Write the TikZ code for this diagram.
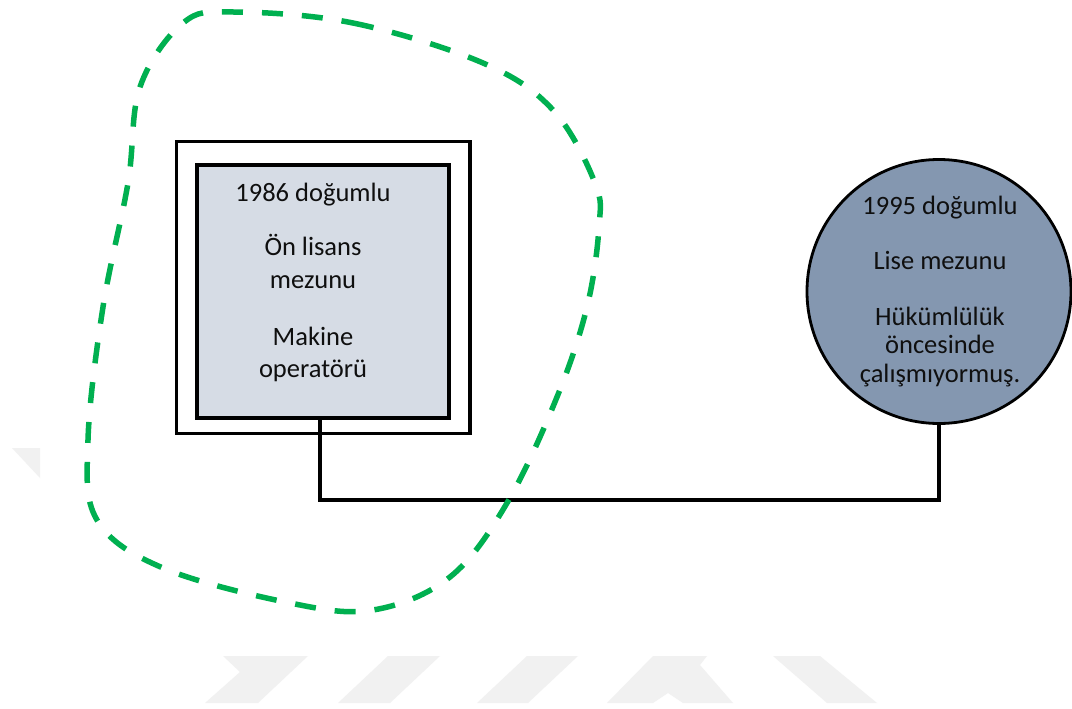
\documentclass[tikz,border=0pt]{standalone}
\usepackage{fontspec}
\setmainfont{Carlito}
\definecolor{innerfill}{RGB}{214,220,229}
\definecolor{circfill}{RGB}{132,151,176}
\definecolor{blobgreen}{RGB}{0,176,80}
\definecolor{wmgray}{RGB}{241,241,241}
\definecolor{txt}{RGB}{15,15,15}
\tikzset{
  txtline/.style={anchor=base, inner sep=0pt, text=txt, font=\fontsize{26.5}{32}\selectfont},
  conn/.style={draw=black, line width=3.2pt, line join=miter},
  blob/.style={draw=blobgreen, line width=5.5pt, dash pattern=on 21pt off 19pt},
  wm/.style={fill=wmgray, draw=none}
}
\begin{document}
\begin{tikzpicture}[x=1pt,y=-1pt]
\useasboundingbox (0,0) rectangle (1072,709);
\fill[white] (0,0) rectangle (1072,709);
% faint watermark
\fill[wm] (12,448) -- (40,448) -- (40,478) -- cycle;
\fill[wm] (223,656) -- (308,656) -- (258,703) -- (205,703) -- (240,672) -- cycle;
\fill[wm] (388,656) -- (440,656) -- (390,703) -- (338,703) -- cycle;
\fill[wm] (527,656) -- (578,656) -- (528,703) -- (477,703) -- cycle;
\fill[wm] (653,656) -- (707,656) -- (700,665) -- (733,703) -- (683,703) -- (668,693) -- (653,703) -- (607,703) -- cycle;
\fill[wm] (773,656) -- (820,656) -- (877,703) -- (827,703) -- cycle;
% left boxes
\node[draw=black, line width=3.2pt, minimum width=293.3pt, minimum height=291.7pt, inner sep=0pt, anchor=north west] (outer) at (175,140) {};
\node[draw=black, fill=innerfill, line width=4pt, minimum width=251.7pt, minimum height=252.7pt, inner sep=0pt, anchor=north west] (inner) at (195,163.3) {};
\node[txtline] (a1) at (313,201) {1986 doğumlu};
\node[txtline] (a2) at (313,255) {Ön lisans};
\node[txtline] (a3) at (313,288) {mezunu};
\node[txtline] (a4) at (313,345) {Makine};
\node[txtline] (a5) at (313,377) {operatörü};
% circle
\node[circle, draw=black, fill=circfill, line width=2.8pt, minimum size=264pt, inner sep=0pt] (circ) at (939,291.5) {};
\node[txtline] (b1) at (940,214) {1995 doğumlu};
\node[txtline] (b2) at (940,269) {Lise mezunu};
\node[txtline] (b3) at (940,325) {Hükümlülük};
\node[txtline] (b4) at (940,353) {öncesinde};
\node[txtline] (b5) at (940,382) {çalışmıyormuş.};
% connector
\coordinate (j) at (320,500);
\draw[conn] (inner.south -| j) -- (j) -| (circ.south);
% dashed green outline
\draw[blob] plot[smooth cycle, tension=0.6] coordinates {
  (233,12) (353,23) (483,63) (553,110) (595,183) (599,227) (587,307)
  (557,397) (507,503) (450,577) (373,610) (290,603) (163,568) (97,520)
  (88,440) (103,307) (128,183) (140,87) (183,23)};
\end{tikzpicture}
\end{document}
